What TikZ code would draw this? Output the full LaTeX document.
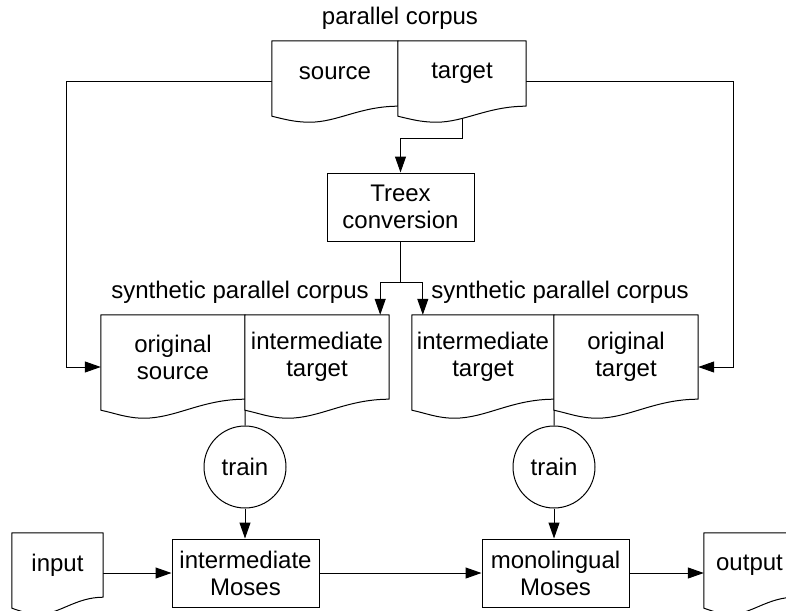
\documentclass[tikz,border=0pt]{standalone}
\usepackage{fontspec}
\setmainfont{Liberation Sans}
\usetikzlibrary{arrows.meta,calc}
\pgfdeclarelayer{bg}
\pgfdeclarelayer{docs}
\pgfsetlayers{bg,docs,main}
\tikzset{
  txt/.style={font=\fontsize{24}{27}\selectfont, align=center, inner sep=0pt},
  docnode/.style={txt, rectangle, minimum height=#1},
  box/.style={txt, draw, line width=1pt, rectangle, minimum width=147pt, minimum height=68pt},
  traincirc/.style={txt, draw, line width=1pt, circle, minimum size=82pt},
  conn/.style={line width=1pt},
  arr/.style={line width=1pt, -{Triangle[length=16pt,width=11pt]}},
  docline/.style={line width=1pt, fill=white, line join=round}
}
\newcommand\docshape[3]{%
\begin{pgfonlayer}{docs}
\draw[docline] let \p1=(#1.south west), \p2=(#1.north east), \n1={\x2-\x1} in
 (\x1,\y1-#2) -- (\x1,\y2) -- (\x2,\y2) -- (\x2,\y1)
 .. controls +(-0.3*\n1,0pt) and +(0.22*\n1,0pt) .. (\x1+0.3*\n1,\y1-#2-#3)
 .. controls +(-0.12*\n1,0pt) and +(0.1*\n1,-3pt) .. (\x1,\y1-#2) -- cycle;
\end{pgfonlayer}}
\begin{document}
\begin{tikzpicture}[x=1pt,y=-1pt]
\clip (0,0) rectangle (786,610);
% labels
\node[txt] (pc) at (400,18) {parallel corpus};
\node[txt] (spc1) at (240,292) {synthetic parallel corpus};
\node[txt] (spc2) at (560,292) {synthetic parallel corpus};
% documents
\node[docnode=65pt, minimum width=126pt] (src) at (335,73.5) {source};
\node[docnode=65pt, minimum width=128pt] (tgt) at (462,73.5) {target};
\node[docnode=84pt, minimum width=144pt] (os) at (173,357) {original\\source};
\node[docnode=84pt, minimum width=144pt] (it1) at (317,357) {intermediate\\target};
\node[docnode=84pt, minimum width=142pt] (it2) at (483,357) {intermediate\\target};
\node[docnode=84pt, minimum width=144pt] (ot) at (626,357) {original\\target};
\node[docnode=64pt, minimum width=91pt] (inp) at (57.5,565) {input};
\node[docnode=64pt, minimum width=91pt] (out) at (749.5,565) {output};
\docshape{src}{10pt}{6pt}
\docshape{tgt}{10pt}{6pt}
\docshape{os}{11pt}{8pt}
\docshape{it1}{11pt}{8pt}
\docshape{it2}{11pt}{8pt}
\docshape{ot}{11pt}{8pt}
\docshape{inp}{11pt}{6pt}
\docshape{out}{11pt}{6pt}
% boxes
\node[box] (treex) at (400.5,207) {Treex\\conversion};
\node[box] (imoses) at (245.5,573) {intermediate\\Moses};
\node[box] (mmoses) at (555.5,573) {monolingual\\Moses};
\node[traincirc] (train1) at (245,467) {train};
\node[traincirc] (train2) at (554,467) {train};
% connectors
\begin{pgfonlayer}{bg}
\draw[arr] (tgt.south) -- ++(0,32) -| (treex.north);
\draw[conn] (treex.south) -- ++(0,41) coordinate (split);
\draw[arr] (split) -| ([xshift=-9pt]it1.north east);
\draw[arr] (split) -| ([xshift=11pt]it2.north west);
\draw[arr] ([yshift=-8pt]src.west) -- ++(-205,0) |- ([yshift=-10pt]os.west);
\draw[arr] ([yshift=-8pt]tgt.east) -- ++(207,0) |- ([yshift=-10pt]ot.east);
\draw[conn] (os.south east) -- (train1.north);
\draw[conn] (it2.south east) -- (train2.north);
\draw[arr] (train1.south) -- (train1.south |- imoses.north);
\draw[arr] (train2.south) -- (train2.south |- mmoses.north);
\draw[arr] (imoses.west -| inp.east) -- (imoses.west);
\draw[arr] (imoses.east) -- (mmoses.west);
\draw[arr] (mmoses.east) -- (mmoses.east -| out.west);
\end{pgfonlayer}
\end{tikzpicture}
\end{document}
